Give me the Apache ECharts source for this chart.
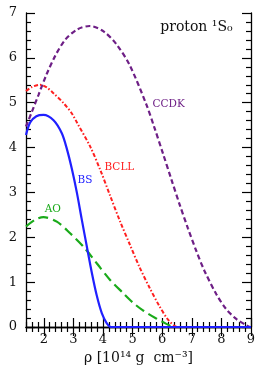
<!DOCTYPE html>
<html><head><meta charset="utf-8">
<script src="https://cdn.jsdelivr.net/npm/echarts@6/dist/echarts.min.js"></script>
<style>html,body{margin:0;padding:0;background:#fff}#c{width:258px;height:366px}</style>
</head><body><div id="c"></div>
<script>
// ---- data ----
const ccdkX = [1.4, 1.6, 1.82, 2.1, 2.39, 2.72, 3.12, 3.55, 4.02, 4.47, 4.90, 5.46, 5.74, 6.02, 6.31, 6.59, 6.87, 7.15, 7.43, 7.83, 8.16, 8.50, 8.84, 8.95];
const ccdkY = [4.47, 4.80, 5.17, 5.64, 6.05, 6.40, 6.63, 6.71, 6.59, 6.29, 5.84, 4.97, 4.44, 3.88, 3.29, 2.73, 2.20, 1.70, 1.25, 0.73, 0.40, 0.18, 0.04, 0.0];
const bcllX = [1.4, 1.6, 1.88, 2.1, 2.33, 2.67, 2.95, 3.12, 3.57, 3.91, 4.24, 4.58, 4.90, 5.23, 5.57, 5.91, 6.19, 6.42, 6.5];
const bcllY = [5.26, 5.35, 5.40, 5.34, 5.21, 4.99, 4.76, 4.56, 4.02, 3.50, 2.93, 2.35, 1.85, 1.34, 0.88, 0.46, 0.17, 0.02, 0.0];
const bsX = [1.4, 1.54, 1.75, 1.99, 2.33, 2.61, 2.78, 2.95, 3.12, 3.28, 3.45, 3.62, 3.79, 3.96, 4.13, 4.27, 4.6, 9.0];
const bsY = [4.28, 4.56, 4.70, 4.73, 4.61, 4.32, 3.97, 3.52, 2.99, 2.41, 1.81, 1.22, 0.70, 0.31, 0.08, 0.0, 0.0, 0.0];
const aoX = [1.4, 1.7, 1.99, 2.44, 2.89, 3.34, 3.79, 4.24, 4.69, 5.0, 5.35, 5.80, 6.14, 6.35];
const aoY = [2.24, 2.39, 2.45, 2.35, 2.09, 1.79, 1.42, 1.05, 0.75, 0.55, 0.37, 0.19, 0.07, 0.0];
const xMajor = [2, 3, 4, 5, 6, 7, 8, 9];
const xMinor = [1.4,1.6,1.8,2.2,2.4,2.6,2.8,3.2,3.4,3.6,3.8,4.2,4.4,4.6,4.8,5.2,5.4,5.6,5.8,6.2,6.4,6.6,6.8,7.2,7.4,7.6,7.8,8.2,8.4,8.6,8.8];
const curveLabels = [
  {text: 'CCDK', x: 5.67, y: 4.97, color: '#6e1f86'},
  {text: 'BCLL', x: 4.05, y: 3.57, color: '#ff2020'},
  {text: 'BS',   x: 3.14, y: 3.28, color: '#2020ff'},
  {text: 'AO',   x: 2.03, y: 2.63, color: '#1aaa1a'}
];
const panelLabel = {text: 'proton ¹S₀', x: 8.38, y: 6.67};

const zip = (xs, ys) => xs.map((x, i) => [x, ys[i]]);
const FONT = 'DejaVu Serif';
const gridRect = {left: 26, right: 7, top: 13, bottom: 39, containLabel: false, outerBoundsMode: 'none'};

const xCommon = {type: 'value', min: 1.4, max: 9, splitLine: {show: false}};
const yCommon = {type: 'value', min: 0, max: 7, interval: 1, splitLine: {show: false}};
const tickStyle = {color: '#000', width: 1.2};

const chart = echarts.init(document.getElementById('c'), null, {renderer: 'canvas'});
chart.setOption({
  animation: false,
  backgroundColor: '#fff',
  grid: [Object.assign({}, gridRect), Object.assign({}, gridRect)],
  xAxis: [
    Object.assign({}, xCommon, {gridIndex: 0, position: 'bottom',
      axisLine: {lineStyle: {color: '#000', width: 1.3}},
      axisTick: {inside: true, length: 9, customValues: xMajor, lineStyle: tickStyle},
      axisLabel: {customValues: xMajor, margin: 6, color: '#111', fontFamily: FONT, fontSize: 13},
      name: 'ρ [10¹⁴ g  cm⁻³]', nameLocation: 'middle', nameGap: 21,
      nameTextStyle: {fontFamily: FONT, fontSize: 14, color: '#111'}}),
    Object.assign({}, xCommon, {gridIndex: 0, position: 'top',
      axisLine: {lineStyle: {color: '#000', width: 1.3}},
      axisTick: {inside: true, length: 9, customValues: xMajor, lineStyle: tickStyle},
      axisLabel: {show: false}}),
    Object.assign({}, xCommon, {gridIndex: 1, position: 'bottom',
      axisLine: {show: false},
      axisTick: {inside: true, length: 5, customValues: xMinor, lineStyle: tickStyle},
      axisLabel: {show: false}}),
    Object.assign({}, xCommon, {gridIndex: 1, position: 'top',
      axisLine: {show: false},
      axisTick: {inside: true, length: 5, customValues: xMinor, lineStyle: tickStyle},
      axisLabel: {show: false}})
  ],
  yAxis: [
    Object.assign({}, yCommon, {gridIndex: 0, position: 'left',
      axisLine: {show: true, lineStyle: {color: '#000', width: 1.3}},
      axisTick: {show: true, inside: true, length: 9, lineStyle: tickStyle},
      minorTick: {show: true, splitNumber: 5, length: 5, lineStyle: tickStyle},
      axisLabel: {margin: 9, color: '#111', fontFamily: FONT, fontSize: 13}}),
    Object.assign({}, yCommon, {gridIndex: 0, position: 'right',
      axisLine: {show: true, lineStyle: {color: '#000', width: 1.3}},
      axisTick: {show: true, inside: true, length: 9, lineStyle: tickStyle},
      minorTick: {show: true, splitNumber: 5, length: 5, lineStyle: tickStyle},
      axisLabel: {show: false}}),
    Object.assign({}, yCommon, {gridIndex: 1, show: false}),
    Object.assign({}, yCommon, {gridIndex: 1, show: false})
  ],
  series: [
    {type: 'line', name: 'CCDK', xAxisIndex: 0, yAxisIndex: 0, data: zip(ccdkX, ccdkY), symbol: 'none',
     smooth: 0.3, lineStyle: {color: '#6e1f86', width: 2.2, type: [5, 3]}, z: 3},
    {type: 'line', name: 'BCLL', xAxisIndex: 0, yAxisIndex: 0, data: zip(bcllX, bcllY), symbol: 'none',
     smooth: 0.3, lineStyle: {color: '#ff2020', width: 2, type: [4, 2, 1.5, 2]}, z: 3},
    {type: 'line', name: 'AO', xAxisIndex: 0, yAxisIndex: 0, data: zip(aoX, aoY), symbol: 'none',
     smooth: 0.3, lineStyle: {color: '#1aaa1a', width: 2.2, type: [10, 5]}, z: 3},
    {type: 'line', name: 'BS', xAxisIndex: 0, yAxisIndex: 0, data: zip(bsX, bsY), symbol: 'none',
     smooth: 0.3, lineStyle: {color: '#2020ff', width: 2.2, type: 'solid'}, z: 4}
  ]
});

// annotations positioned from data coordinates
const px = (x, y) => chart.convertToPixel({xAxisIndex: 0, yAxisIndex: 0}, [x, y]);
const graphics = curveLabels.map(l => {
  const p = px(l.x, l.y);
  return {type: 'text', x: p[0], y: p[1], z: 10,
    style: {text: l.text, fill: l.color, font: '10.5px "' + FONT + '"', textAlign: 'left', textVerticalAlign: 'middle'}};
});
const pp = px(panelLabel.x, panelLabel.y);
graphics.push({type: 'text', x: pp[0], y: pp[1], z: 10,
  style: {text: panelLabel.text, fill: '#111', font: '14px "' + FONT + '"', textAlign: 'right', textVerticalAlign: 'middle'}});
chart.setOption({graphic: graphics});
</script></body></html>
